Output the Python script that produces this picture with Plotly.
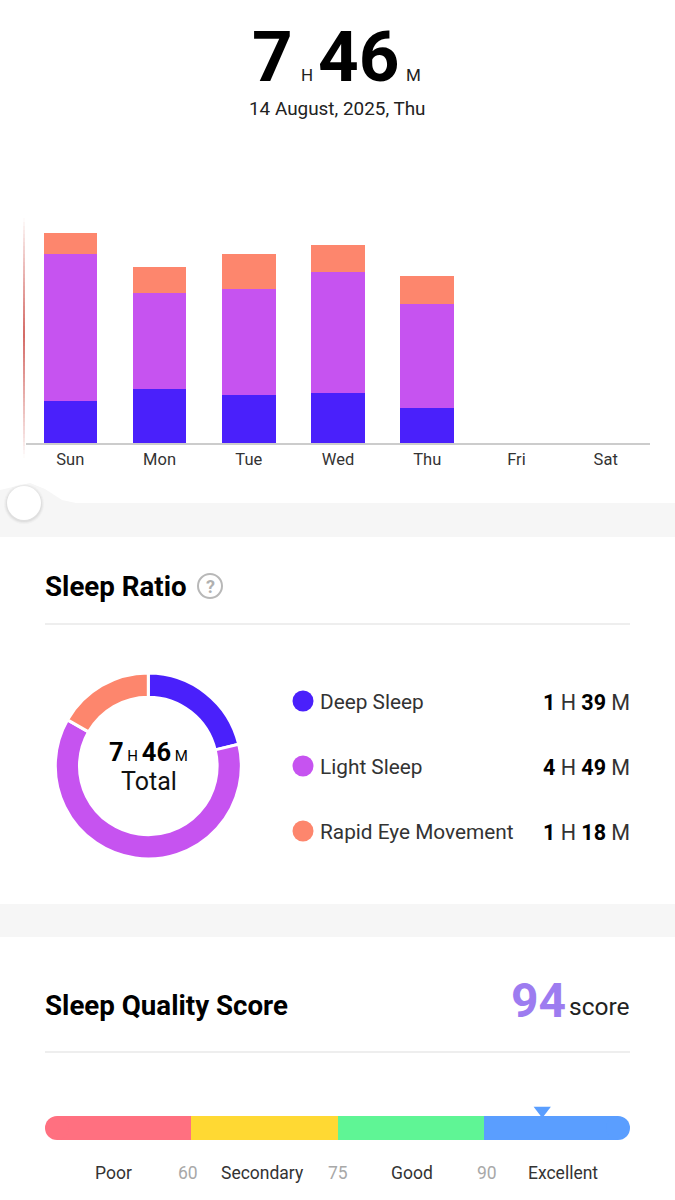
import plotly.graph_objects as go

W, H = 675, 1200
FONT = "Roboto"

# ---------- data ----------
days = ["Sun", "Mon", "Tue", "Wed", "Thu", "Fri", "Sat"]
deep_min = [117, 151, 134, 140, 99, None, None]
light_min = [410, 268, 296, 338, 289, None, None]
rem_min = [59, 73, 98, 75, 78, None, None]

ratio_labels = ["Deep Sleep", "Light Sleep", "Rapid Eye Movement"]
ratio_values = [99, 289, 78]
ratio_text = [("1", "39"), ("4", "49"), ("1", "18")]

band_names = ["Poor", "Secondary", "Good", "Excellent"]
band_limits = ["60", "75", "90"]
band_name_pos = [0.465, 1.49, 2.51, 3.54]
band_limit_pos = [0.98, 2.0, 3.02]
score = 94
score_pos = 3.4

C_DEEP, C_LIGHT, C_REM = "#4a20fb", "#c653f0", "#fd866d"
band_colors = ["#ff7080", "#ffd933", "#5ff595", "#5a9eff"]


def px(x):
    return x / W


def py(y):
    return 1 - y / H


fig = go.Figure()

# ---------- weekly stacked bars ----------
for name, vals, col in [("Deep Sleep", deep_min, C_DEEP), ("Light Sleep", light_min, C_LIGHT),
                        ("Rapid Eye Movement", rem_min, C_REM)]:
    fig.add_trace(go.Bar(x=days, y=vals, name=name, marker=dict(color=col, line=dict(width=0)),
                         width=0.6, showlegend=False, xaxis="x", yaxis="y"))

# ---------- donut ----------
cx, cy, R = 148.3, 766, 93
fig.add_trace(go.Pie(values=ratio_values, labels=ratio_labels, sort=False, direction="clockwise",
                     rotation=0, hole=0.74, textinfo="none", showlegend=False,
                     marker=dict(colors=[C_DEEP, C_LIGHT, C_REM], line=dict(color="white", width=3)),
                     domain=dict(x=[px(cx - R), px(cx + R)], y=[py(cy + R), py(cy - R)])))

# ---------- score bar: four equal bands, full round caps drawn as end markers ----------
END_INSET = 12 / 146.25  # cap radius in band units
for i, col in enumerate(band_colors):
    start = i + (END_INSET if i == 0 else 0)
    stop = i + 1 - (END_INSET if i == 3 else 0)
    fig.add_trace(go.Bar(y=[0], x=[stop - start], base=[start], orientation="h", width=1,
                         marker=dict(color=col, line=dict(width=0)),
                         xaxis="x2", yaxis="y2", showlegend=False))
fig.add_trace(go.Scatter(x=[END_INSET, 4 - END_INSET], y=[0, 0], mode="markers", xaxis="x2", yaxis="y2",
                         marker=dict(symbol="circle", size=24, color=[band_colors[0], band_colors[3]],
                                     line=dict(width=0)), cliponaxis=False, showlegend=False))
fig.add_trace(go.Scatter(x=[score_pos], y=[0.73], mode="markers", xaxis="x2", yaxis="y2",
                         marker=dict(symbol="triangle-down", size=15, color=band_colors[3], line=dict(width=0)),
                         cliponaxis=False, showlegend=False))

# ---------- page furniture ----------
shapes = []


def rect(x0, y0, x1, y1, fill):
    shapes.append(dict(type="rect", xref="paper", yref="paper", x0=px(x0), x1=px(x1), y0=py(y1), y1=py(y0),
                       fillcolor=fill, line=dict(width=0), layer="below"))


def circle(x, y, r, fill, line=None, opacity=1, layer="above"):
    shapes.append(dict(type="circle", xref="paper", yref="paper", x0=px(x - r), x1=px(x + r),
                       y0=py(y + r), y1=py(y - r), fillcolor=fill, opacity=opacity,
                       line=line or dict(width=0), layer=layer))


GREY = "#f6f6f6"
rect(0, 503, W, 537, GREY)
rect(0, 904, W, 937, GREY)
# the notch rising to the slider knob
pts = [(0, 503), (0, 490), (30, 483), (45, 489), (62, 500), (76, 503)]
path = "M " + " L ".join(f"{px(a):.5f},{py(b):.5f}" for a, b in pts) + " Z"
shapes.append(dict(type="path", xref="paper", yref="paper", path=path, fillcolor=GREY,
                   line=dict(width=0), layer="below"))
for r, op in [(20, .05), (19, .07), (18, .1)]:
    circle(24, 504, r, "#888888", opacity=op)
circle(24, 503, 17, "white")

# fading red line at the left of the chart
LINE_TOP, LINE_PEAK, LINE_BOTTOM = 218, 335, 458
for y0 in range(LINE_TOP, LINE_BOTTOM, 4):
    mid = y0 + 2
    span = (LINE_PEAK - LINE_TOP) if mid < LINE_PEAK else (LINE_BOTTOM - LINE_PEAK)
    alpha = max(0.0, 1 - abs(mid - LINE_PEAK) / span) ** 0.9 * 0.85
    shapes.append(dict(type="line", xref="paper", yref="paper", x0=px(24), x1=px(24), y0=py(y0), y1=py(y0 + 4),
                       line=dict(color=f"rgba(205,80,75,{alpha:.3f})", width=2)))

for y in (624, 1052):
    shapes.append(dict(type="line", xref="paper", yref="paper", x0=px(45), x1=px(630), y0=py(y), y1=py(y),
                       line=dict(color="#e8e8e8", width=1.5)))
circle(210, 586, 12, "white", line=dict(color="#b8b8b8", width=2))
for y, col in zip((701, 766, 831), (C_DEEP, C_LIGHT, C_REM)):
    circle(303, y, 10.5, col)

ann = []


def text(x, y, s, size, anchor="left", color="#000000", weight=400, xref="paper"):
    nudge = {"left": -2, "right": 2, "center": 0}[anchor] if xref == "paper" else 0
    ann.append(dict(x=px(x + nudge) if xref == "paper" else x, y=py(y), xref=xref, yref="paper", text=s,
                    showarrow=False, xanchor=anchor, yanchor="middle", align=anchor,
                    font=dict(family=FONT, size=size, color=color, weight=weight)))


# hero
text(272, 57, "7", 71, "center", weight=700)
text(307, 75, "H", 17, "center", "#222222")
text(359, 57, "46", 71, "center", weight=700)
text(413, 75, "M", 17, "center", "#222222")
text(337, 109, "14 August, 2025, Thu", 18.9, "center", "#222222")

# sections
text(45, 586.5, "Sleep Ratio", 27.7, weight=700)
text(210, 586, "?", 18, "center", "#b0b0b0", weight=700)
text(45, 1005.5, "Sleep Quality Score", 27.7, weight=700)
text(566, 1001, str(score), 48, "right", "#9d7cf0", weight=700)
text(630, 1006, "score", 24.5, "right", "#222222")

# donut centre
text(148.5, 752,
     '<b>7</b><span style="font-size:15px"> H </span><b>46</b><span style="font-size:15px"> M</span>',
     25.5, "center")
text(148.5, 781, "Total", 25, "center", "#111111")

# legend
for y, lab, (h, m) in zip((701, 766, 831), ratio_labels, ratio_text):
    text(320, y + 1, lab, 20.8, "left", "#333333")
    text(630, y + 1, f'<span style="color:#000000"><b>{h}</b></span> H '
                     f'<span style="color:#000000"><b>{m}</b></span> M', 21.5, "right", "#333333")

# score scale labels
for pos, name in zip(band_name_pos, band_names):
    text(pos, 1173, name, 17.5, "center", "#333333", xref="x2")
for pos, lim in zip(band_limit_pos, band_limits):
    text(pos, 1173, lim, 17.5, "center", "#a8a8a8", xref="x2")

fig.update_layout(
    width=W, height=H, margin=dict(l=0, r=0, t=0, b=0), paper_bgcolor="white", plot_bgcolor="white",
    barmode="overlay", showlegend=False, shapes=shapes, annotations=ann, font=dict(family=FONT),
    xaxis=dict(domain=[px(25.7), px(650.3)], type="category", categoryorder="array", categoryarray=days,
               range=[-0.5, 6.5], showgrid=False, zeroline=False, ticks="", showline=True,
               linecolor="#cccccc", linewidth=1.5, tickfont=dict(family=FONT, size=16.5, color="#333333"),
               ticklabelstandoff=0, fixedrange=True),
    yaxis=dict(domain=[py(443), py(220)], range=[0, 622], visible=False, fixedrange=True),
    xaxis2=dict(domain=[px(45), px(630)], range=[0, 4], visible=False, anchor="y2", fixedrange=True),
    yaxis2=dict(domain=[py(1140), py(1104)], range=[-0.5, 1.0], visible=False, anchor="x2", fixedrange=True),
)
fig.update_layout(barmode="stack")
fig.update_traces(selector=dict(type="bar"), hoverinfo="skip")
fig.write_html("out.html", config=dict(displayModeBar=False), post_script="document.body.style.margin='0';")
